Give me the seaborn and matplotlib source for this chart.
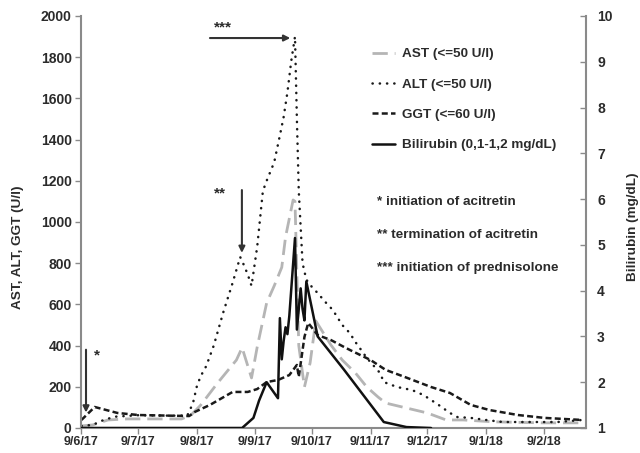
import numpy as np
import pandas as pd
import matplotlib
matplotlib.use("Agg")
import matplotlib.pyplot as plt
import matplotlib.dates as mdates
import seaborn as sns

# Values; x is days after the first visit (9 June 2017)
START = pd.Timestamp("2017-06-09")

ast_days = [0, 6, 14, 24, 42, 53, 58, 63, 72, 82, 85, 90, 93, 98, 102, 106, 108, 112, 113,
            115, 118, 121, 124, 132, 138, 145, 151, 157, 161, 172, 183, 193, 202, 218, 244, 266]
ast_values = [10, 15, 39, 44, 44, 44, 63, 110, 218, 330, 390, 243, 393, 607, 690, 780, 927, 1107, 1100,
              400, 199, 316, 520, 403, 330, 267, 199, 150, 121, 97, 73, 39, 39, 30, 25, 25]

alt_days = [0, 6, 12, 18, 30, 46, 56, 59, 61, 63, 66, 70, 75, 80, 84, 86, 88, 90, 93, 96, 98,
            102, 105, 107, 109, 111, 113, 114, 115, 117, 119, 122, 125, 129, 133, 138, 142, 145,
            148, 151, 158, 160, 167, 175, 181, 185, 189, 195, 199, 206, 214, 223, 242, 252, 265]
alt_values = [10, 15, 40, 55, 62, 60, 60, 120, 200, 250, 300, 400, 560, 705, 830, 790, 745, 690, 880, 1150, 1200,
              1290, 1420, 1510, 1630, 1780, 1900, 1500, 1150, 800, 720, 684, 655, 612, 573, 500, 461, 417,
              379, 340, 267, 223, 199, 184, 160, 136, 112, 73, 53, 49, 39, 29, 29, 29, 39]

ggt_days = [0, 7, 19, 30, 57, 60, 68, 80, 88, 93, 98, 104, 110, 114, 115, 118, 120, 125, 132,
            139, 142, 153, 161, 171, 185, 195, 206, 216, 231, 245, 265]
ggt_values = [39, 102, 73, 63, 58, 78, 112, 175, 175, 189, 223, 233, 257, 306, 248, 442, 510, 451, 427,
              393, 379, 330, 282, 248, 199, 170, 112, 87, 63, 49, 39]

bili_days = [0, 85, 91, 94, 98, 104, 105, 106, 107, 108, 109, 110, 113, 114, 116, 117, 118, 119,
             125, 139, 160, 172, 185]
bili_values = [1.0, 1.0, 1.22, 1.6, 2.0, 1.65, 3.4, 2.5, 2.9, 3.2, 3.05, 3.45, 5.15, 3.15, 4.05, 3.6, 3.35, 4.2,
               3.0, 2.27, 1.13, 1.02, 1.0]

tick_dates = ["2017-06-09", "2017-07-09", "2017-08-09", "2017-09-09", "2017-10-09",
              "2017-11-09", "2017-12-09", "2018-01-09", "2018-02-09"]
tick_labels = ["9/6/17", "9/7/17", "9/8/17", "9/9/17", "9/10/17",
               "9/11/17", "9/12/17", "9/1/18", "9/2/18"]


def to_date(days):
    return START + pd.to_timedelta(days, unit="D")


def xnum(day):
    return mdates.date2num(START + pd.Timedelta(days=day))


sns.set_style("ticks")
plt.rcParams['font.family'] = ['Liberation Sans', 'DejaVu Sans']
plt.rcParams['font.weight'] = 'bold'
text_col = "#2b2b2b"
spine_col = "#8a8a8a"

fig, ax = plt.subplots(figsize=(6.4, 4.53), dpi=100)
fig.subplots_adjust(left=0.1273, right=0.9156, top=0.9647, bottom=0.0552)
ax2 = ax.twinx()

sns.lineplot(x=to_date(ast_days), y=ast_values, ax=ax, color="#b5b5b5", linewidth=2.0,
             linestyle=(0, (5.5, 2.5)), label="AST (<=50 U/l)", legend=False, estimator=None)
sns.lineplot(x=to_date(alt_days), y=alt_values, ax=ax, color="#1a1a1a", linewidth=1.8,
             linestyle=(0, (0.1, 2.8)), dash_capstyle="round", label="ALT (<=50 U/l)",
             legend=False, estimator=None)
sns.lineplot(x=to_date(ggt_days), y=ggt_values, ax=ax, color="#1a1a1a", linewidth=1.8,
             linestyle=(0, (2.4, 1.3)), label="GGT (<=60 U/l)", legend=False, estimator=None)
sns.lineplot(x=to_date(bili_days), y=bili_values, ax=ax2, color="#111111", linewidth=1.8,
             label="Bilirubin (0,1-1,2 mg/dL)", legend=False, estimator=None)

# axes
ax.set_xlim(START, START + pd.Timedelta(days=267))
ax.set_ylim(0, 2000)
ax.set_yticks(np.arange(0, 2001, 200))
ax2.set_ylim(1, 10)
ax2.set_yticks(np.arange(1, 11, 1))
ax.set_xticks(pd.to_datetime(tick_dates))
ax.set_xticklabels(tick_labels)
ax.set_xlabel("")
ax.set_ylabel("")
ax2.set_ylabel("")

ax.tick_params(axis="y", direction="out", length=4, width=1, color=spine_col,
               labelsize=10, labelcolor=text_col, pad=3)
ax.tick_params(axis="x", direction="out", length=4, width=1, color=spine_col,
               labelsize=9, labelcolor=text_col, pad=2)
ax2.tick_params(axis="y", direction="in", length=4, width=1, color=spine_col,
                labelsize=10, labelcolor=text_col, pad=8)

for name in ["top", "right"]:
    ax.spines[name].set_visible(False)
for name in ["top", "left", "bottom"]:
    ax2.spines[name].set_visible(False)
for sp in [ax.spines["left"], ax.spines["bottom"], ax2.spines["right"]]:
    sp.set_color(spine_col)
    sp.set_linewidth(1.5)

fig.text(18 / 640, 1 - 247 / 453, "AST, ALT, GGT (U/l)", rotation=90, ha="center", va="center",
         fontsize=9.7, color=text_col)
fig.text(633 / 640, 1 - 227 / 453, "Bilirubin (mg/dL)", rotation=90, ha="center", va="center",
         fontsize=9.7, color=text_col)

# legend
h1, l1 = ax.get_legend_handles_labels()
h2, l2 = ax2.get_legend_handles_labels()
ax.legend(h1 + h2, l1 + l2, loc="upper left", bbox_to_anchor=(372 / 640, 1 - 48 / 453),
          bbox_transform=fig.transFigure, frameon=False, handlelength=1.7, handletextpad=0.5,
          labelspacing=1.33, borderpad=0, borderaxespad=0, prop={"size": 9.7, "weight": "bold"},
          labelcolor=text_col)

# event notes
notes = ["* initiation of acitretin", "** termination of acitretin", "*** initiation of prednisolone"]
for i, note in enumerate(notes):
    fig.text(377 / 640, 1 - (202 + i * 33) / 453, note, ha="left", va="center",
             fontsize=9.7, color=text_col)

# arrows and markers for the events
arrow_kw = dict(arrowstyle="-|>", color="#333333", lw=1.5, mutation_scale=9, shrinkA=0, shrinkB=0)
ax.annotate("", xy=(xnum(2.4), 75), xytext=(xnum(2.4), 380), arrowprops=arrow_kw)
ax.text(xnum(8.2), 350, "*", ha="center", va="center", fontsize=11, color=text_col)
ax.annotate("", xy=(xnum(84.9), 850), xytext=(xnum(84.9), 1155), arrowprops=arrow_kw)
ax.text(xnum(73.4), 1140, "**", ha="center", va="center", fontsize=11, color=text_col)
ax.annotate("", xy=(xnum(110.5), 1893), xytext=(xnum(68), 1893), arrowprops=arrow_kw)
ax.text(xnum(75), 1945, "***", ha="center", va="center", fontsize=11, color=text_col)

plt.savefig("out.png", dpi=100)
